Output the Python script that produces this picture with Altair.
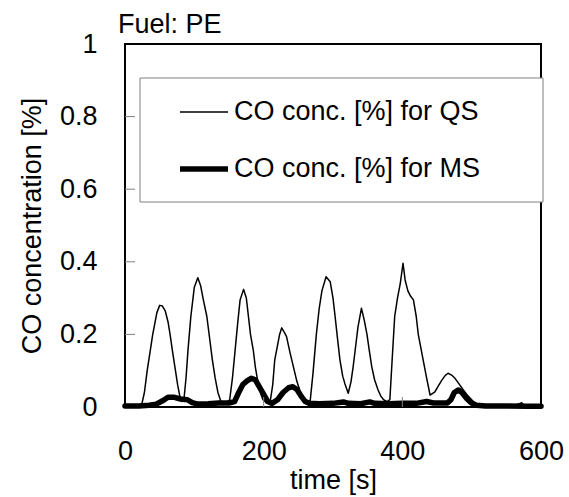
import altair as alt
import pandas as pd

# ---- data ----
series_names = ["CO conc. [%] for QS", "CO conc. [%] for MS"]

time_qs = [0, 10, 20, 24, 28, 32, 36, 40, 46, 50, 54, 58, 62, 65, 68, 72, 76, 79, 82,
           85, 88, 91, 95, 100, 105, 109, 113, 118, 122, 126, 130, 134, 139, 145,
           151, 155, 159, 163, 166, 171, 175, 178, 181, 185, 188, 192, 196, 199, 204,
           209, 213, 216, 220, 223, 226, 230, 233, 238, 243, 248, 252, 256, 260, 264,
           267, 271, 276, 280, 284, 290, 296, 300, 303, 307, 310, 314, 317, 322,
           326, 329, 332, 336, 341, 345, 349, 352, 356, 360, 365, 369, 373, 378,
           382, 385, 389, 393, 397, 401, 404, 408, 412, 416, 420, 423, 427, 430, 435, 440,
           447, 452, 457, 462, 466, 471, 476, 482, 488, 494, 500, 507,
           520, 540, 560, 568, 572, 576, 590, 600]
co_qs = [0.005, 0.005, 0.005, 0.006, 0.04, 0.10, 0.15, 0.20, 0.26, 0.28, 0.278, 0.265, 0.235, 0.20, 0.16, 0.11, 0.06, 0.03, 0.015,
         0.02, 0.08, 0.16, 0.25, 0.33, 0.356, 0.335, 0.295, 0.25, 0.19, 0.13, 0.08, 0.04, 0.012, 0.01,
         0.02, 0.08, 0.16, 0.24, 0.295, 0.324, 0.30, 0.25, 0.20, 0.157, 0.11, 0.065, 0.035, 0.02, 0.012,
         0.01, 0.06, 0.13, 0.17, 0.20, 0.218, 0.205, 0.194, 0.15, 0.11, 0.07, 0.047, 0.03, 0.02, 0.015,
         0.015, 0.09, 0.20, 0.27, 0.32, 0.359, 0.345, 0.30, 0.25, 0.18, 0.13, 0.085, 0.065, 0.038,
         0.07, 0.11, 0.157, 0.22, 0.272, 0.24, 0.20, 0.16, 0.11, 0.075, 0.047, 0.03, 0.02, 0.015,
         0.02, 0.12, 0.25, 0.30, 0.34, 0.396, 0.35, 0.32, 0.305, 0.295, 0.25, 0.20, 0.16, 0.13, 0.08, 0.033,
         0.042, 0.058, 0.074, 0.087, 0.093, 0.088, 0.079, 0.063, 0.047, 0.032, 0.02, 0.006,
         0.005, 0.005, 0.004, 0.008, 0.012, 0.004, 0.003, 0.003]

time_ms = [0, 20, 35, 45, 55, 62, 70, 80, 90, 97, 105, 120, 135, 150, 158, 164, 170,
           176, 182, 188, 194, 200, 206, 212, 220, 228, 236, 242, 248, 254, 260, 266,
           280, 300, 315, 322, 340, 353, 360, 380, 400, 420, 435, 445, 465, 470, 475,
           481, 486, 492, 499, 507, 520, 550, 580, 600]
co_ms = [0.003, 0.003, 0.005, 0.008, 0.018, 0.027, 0.027, 0.022, 0.02, 0.012, 0.008, 0.009, 0.011, 0.011, 0.015, 0.04, 0.062,
         0.072, 0.079, 0.075, 0.055, 0.035, 0.015, 0.01, 0.02, 0.04, 0.053, 0.056, 0.048, 0.03, 0.015, 0.01,
         0.009, 0.01, 0.014, 0.01, 0.009, 0.014, 0.01, 0.009, 0.01, 0.01, 0.015, 0.011, 0.011, 0.02, 0.04,
         0.047, 0.04, 0.025, 0.012, 0.005, 0.003, 0.003, 0.002, 0.002]

x_ticks = [0, 200, 400, 600]
y_ticks = [0, 0.2, 0.4, 0.6, 0.8, 1]

df = pd.concat([
    pd.DataFrame({"t": time_qs, "v": co_qs, "series": series_names[0]}),
    pd.DataFrame({"t": time_ms, "v": co_ms, "series": series_names[1]}),
])

FONT = "Liberation Sans"
FS = 27
W, H = 416, 363

xscale = alt.Scale(domain=[0, 600], nice=False, zero=False)
yscale = alt.Scale(domain=[0, 1], nice=False)

xaxis = alt.Axis(values=x_ticks, title="time [s]", ticks=False, domain=False,
                 grid=False, labelPadding=31, titlePadding=3, labelFlush=False)
yaxis = alt.Axis(values=y_ticks, format="~g", title="CO concentration [%]",
                 ticks=False, domain=False, grid=False, labelPadding=28,
                 titlePadding=13, labelFlush=False)

legend_props = dict(
    title=None, orient="none", legendX=15, legendY=34,
    symbolType="stroke", symbolSize=2304, symbolOffset=28,
    labelFont=FONT, labelFontSize=FS, labelColor="black", labelOffset=3,
    padding=9, rowPadding=17, labelLimit=400,
)

box = alt.Chart(pd.DataFrame({"k": [0]})).mark_rect(
    fill="white", stroke="#808080", strokeWidth=1
).encode(x=alt.value(15), x2=alt.value(418), y=alt.value(34), y2=alt.value(158))

lines = alt.Chart(df).mark_line(strokeJoin="round", strokeCap="round").encode(
    x=alt.X("t:Q", scale=xscale, axis=xaxis),
    y=alt.Y("v:Q", scale=yscale, axis=yaxis),
    color=alt.Color("series:N", scale=alt.Scale(domain=series_names, range=["black", "black"]),
                    legend=alt.Legend(**legend_props)),
    strokeWidth=alt.StrokeWidth("series:N", scale=alt.Scale(domain=series_names, range=[1.5, 5.5]),
                                legend=alt.Legend(**legend_props)),
)

ytick = alt.Chart(pd.DataFrame({"v": y_ticks[1:-1]})).mark_rule(color="#808080", strokeWidth=1).encode(
    y=alt.Y("v:Q", scale=yscale, axis=yaxis), x=alt.value(0), x2=alt.value(10))
xtick = alt.Chart(pd.DataFrame({"t": x_ticks[1:-1]})).mark_rule(color="#808080", strokeWidth=1).encode(
    x=alt.X("t:Q", scale=xscale, axis=xaxis), y=alt.value(H), y2=alt.value(H - 10))

chart = alt.layer(lines, xtick, ytick, box).properties(
    width=W, height=H,
    background="white",
    title=alt.TitleParams("Fuel: PE", anchor="start", frame="group", dx=-7, dy=30, offset=0,
                          baseline="alphabetic",
                          font=FONT, fontSize=FS, fontWeight="normal", color="black"),
    autosize=alt.AutoSizeParams(type="none"),
    padding={"left": 125, "top": 44, "right": 28, "bottom": 90},
).configure_view(stroke="black", strokeWidth=2).configure_axis(
    labelFont=FONT, labelFontSize=FS, labelColor="black",
    titleFont=FONT, titleFontSize=FS, titleFontWeight="normal", titleColor="black",
)

chart.save("out.html", embed_options={"renderer": "svg", "actions": False})
